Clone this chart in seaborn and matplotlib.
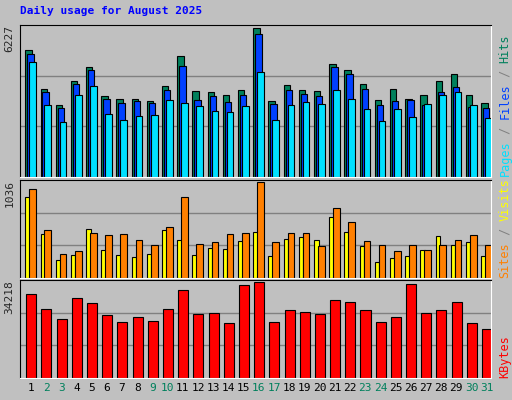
import matplotlib
matplotlib.use("Agg")
import matplotlib.pyplot as plt
import seaborn as sns
import numpy as np
import pandas as pd

days = list(range(1, 32))
hits = [5324, 3697, 2989, 4031, 4615, 3364, 3239, 3239, 3155, 3823, 5074, 3614, 3531, 3406, 3656, 6227,
        3155, 3864, 3656, 3614, 4740, 4490, 3906, 3197, 3697, 3280, 3447, 4031, 4323, 3447, 3072]
files = [5157, 3531, 2863, 3906, 4490, 3239, 3072, 3155, 3072, 3656, 4657, 3197, 3364, 3114, 3406, 5991,
         3030, 3656, 3489, 3364, 4615, 4323, 3697, 2989, 3155, 3197, 2989, 3531, 3781, 2905, 2863]
pages = [4823, 2989, 2280, 3447, 3823, 2613, 2363, 2530, 2572, 3197, 3072, 2947, 2738, 2697, 2947, 4406,
         2363, 2989, 3114, 3030, 3656, 3239, 2822, 2321, 2822, 2488, 3030, 3447, 3572, 2989, 2446]
sites = [878, 473, 191, 248, 529, 304, 248, 225, 259, 518, 405, 248, 326, 315, 394, 495,
         236, 416, 439, 405, 653, 495, 349, 169, 214, 236, 304, 450, 360, 383, 236]
visits = [956, 518, 259, 293, 484, 461, 473, 405, 360, 551, 878, 371, 383, 473, 484, 1036,
          383, 484, 484, 349, 754, 608, 394, 360, 293, 360, 304, 360, 405, 461, 360]
kbytes = [30075, 24434, 21050, 28568, 26689, 22554, 19923, 21802, 20299, 24434, 31200, 22930, 23306, 19547, 33079, 34218,
          19923, 24058, 23682, 22930, 27817, 27065, 24058, 19923, 21802, 33455, 23306, 24058, 27065, 19547, 17291]
weekend = [2, 3, 9, 10, 16, 17, 23, 24, 30, 31]

sns.set_style("white")
plt.rcParams['font.family'] = ['DejaVu Sans Mono', 'DejaVu Sans']
bg = "#C0C0C0"
fig = plt.figure(figsize=(5.12, 4.0), dpi=100, facecolor=bg)
W, H = 512, 400

def px_axes(x0, y0, x1, y1):
    return fig.add_axes([x0 / W, 1 - y1 / H, (x1 - x0) / W, (y1 - y0) / H])

x = np.array(days, dtype=float)
ax1 = px_axes(20, 25, 491, 177)
ax2 = px_axes(20, 180, 491, 278)
ax3 = px_axes(20, 280, 491, 378)

ax1.bar(x - 0.37, hits, width=0.42, align="edge", color="#00805c", edgecolor="black", lw=0.8)
ax1.bar(x - 0.24, files, width=0.42, align="edge", color="#0040ff", edgecolor="black", lw=0.8)
ax1.bar(x - 0.11, pages, width=0.44, align="edge", color="#00e0ff", edgecolor="black", lw=0.8)
ax2.bar(x - 0.37, sites, width=0.3, align="edge", color="#ffff00", edgecolor="black", lw=0.8)
ax2.bar(x - 0.11, visits, width=0.44, align="edge", color="#ff8000", edgecolor="black", lw=0.8)
df = pd.DataFrame({"day": x + 0.02, "kbytes": kbytes})
sns.barplot(data=df, x="day", y="kbytes", native_scale=True, width=0.66, color="#ff0000",
            edgecolor="black", linewidth=0.8, saturation=1, ax=ax3)

for ax, top in [(ax1, max(hits)), (ax2, max(visits)), (ax3, max(kbytes))]:
    ax.set_facecolor(bg)
    ax.set_xlim(0.28, 31.28)
    ax.set_ylim(0, top * 1.02)
    for f in (1 / 3, 2 / 3):
        ax.axhline(top * 1.02 * f, color="#808080", lw=1, zorder=0)
    ax.set_xticks([])
    ax.set_yticks([])
    ax.set_xlabel("")
    ax.set_ylabel("")
    for s in ax.spines.values():
        s.set_color("black")
    ax.spines["bottom"].set_color("white")
    ax.spines["right"].set_color("white")
    ax.text(-0.012, 1.0, str(top), transform=ax.transAxes, rotation=90, ha="right", va="top", fontsize=8)

fig.text(20 / W, 1 - 11 / H, "Daily usage for August 2025", color="#0000ff", fontsize=8,
         fontweight="bold", va="center")

for d in days:
    fig.text((20 + (d - 0.28) * 471 / 31) / W, 1 - 388 / H, str(d), ha="center", va="center", fontsize=8,
             color="#00805c" if d in weekend else "black")

def side_label(ax, parts, fs=8.5):
    y = 0.005
    char_px = 0.602 * fs * 100 / 72
    for txt, col in parts:
        ax.text(1.03, y, txt, transform=ax.transAxes, rotation=90, ha="center", va="bottom",
                fontsize=fs, color=col)
        y += len(txt) * char_px / (ax.get_position().height * H)

side_label(ax1, [("Pages", "#00e0ff"), (" / ", "#808080"), ("Files", "#0040ff"), (" / ", "#808080"), ("Hits", "#00805c")])
side_label(ax2, [("Sites", "#ff8000"), (" / ", "#808080"), ("Visits", "#ffff00")])
side_label(ax3, [("KBytes", "#ff0000")])

fig.savefig("out.png", dpi=100, facecolor=bg)
